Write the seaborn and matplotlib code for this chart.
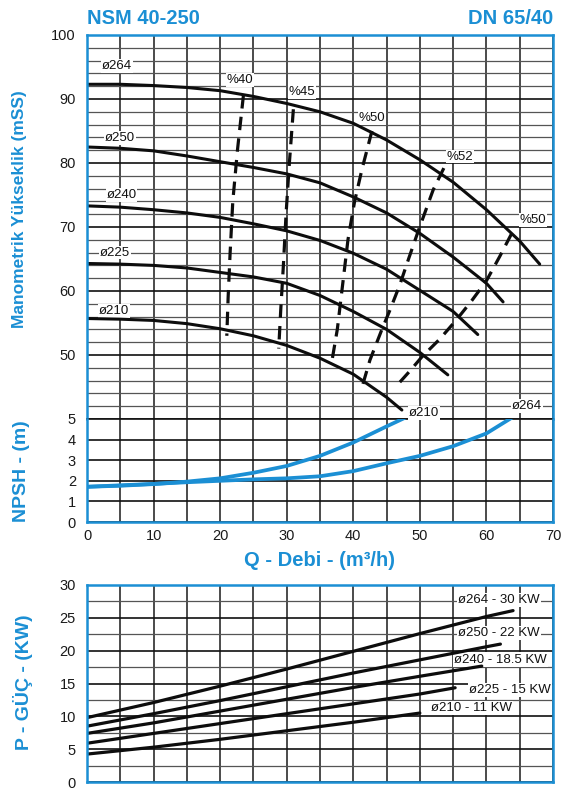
import matplotlib
matplotlib.use("Agg")
import matplotlib.pyplot as plt
import seaborn as sns

# ---------------- data ----------------
# Head curves  Q (m3/h) -> H (mSS)
q_h264 = [0, 5, 10, 15, 20, 25, 30, 35, 40, 45, 50, 55, 60, 65, 68]
h_h264 = [92.3, 92.3, 92.1, 91.8, 91.3, 90.4, 89.3, 88.0, 86.2, 83.6, 80.5, 77.0, 72.7, 67.8, 64.2]
q_h250 = [0, 5, 10, 15, 20, 25, 30, 35, 40, 45, 50, 55, 60, 62.5]
h_h250 = [82.5, 82.3, 81.9, 81.1, 80.2, 79.3, 78.3, 76.9, 74.7, 72.2, 69.0, 65.3, 61.2, 58.3]
q_h240 = [0, 5, 10, 15, 20, 25, 30, 35, 40, 45, 50, 55, 58.7]
h_h240 = [73.3, 73.1, 72.7, 72.2, 71.5, 70.5, 69.4, 67.9, 65.9, 63.4, 60.1, 56.8, 53.2]
q_h225 = [0, 5, 10, 15, 20, 25, 30, 35, 40, 45, 50, 54.2]
h_h225 = [64.3, 64.2, 64.0, 63.6, 62.9, 62.2, 61.2, 59.3, 56.8, 54.0, 50.4, 46.9]
q_h210 = [0, 5, 10, 15, 20, 25, 30, 35, 40, 45, 47.3]
h_h210 = [55.7, 55.6, 55.4, 54.9, 54.1, 53.0, 51.5, 49.5, 47.0, 43.4, 41.4]
head_names = ["ø264", "ø250", "ø240", "ø225", "ø210"]
head_label_q = [4.5, 5.0, 5.2, 4.2, 4.1]
head_label_h = [95.2, 83.9, 75.0, 66.0, 56.9]

# Efficiency (iso) curves
q_e40 = [23.5, 22.6, 21.9, 21.5, 21.2, 21.0]
h_e40 = [90.6, 82.0, 74.0, 66.0, 59.0, 53.0]
q_e45 = [31.0, 30.4, 29.9, 29.5, 29.1, 28.8]
h_e45 = [88.4, 80.0, 72.0, 64.0, 57.0, 51.0]
q_e50a = [42.8, 41.3, 40.2, 39.2, 38.4, 37.6, 36.7]
h_e50a = [85.0, 79.0, 74.0, 68.0, 61.0, 54.0, 48.5]
q_e52 = [53.6, 52.0, 49.8, 48.3, 47.0, 45.5, 44.3, 42.5, 41.4]
h_e52 = [79.2, 75.8, 69.5, 65.0, 61.0, 57.0, 54.0, 49.2, 45.3]
q_e50b = [63.8, 62.0, 60.0, 57.8, 55.5, 53.0, 50.3, 48.5, 46.6]
h_e50b = [69.0, 65.4, 61.6, 58.5, 55.5, 52.5, 49.7, 47.5, 45.3]
eff_names = ["%40", "%45", "%50", "%52", "%50"]
eff_label_q = [23.0, 32.3, 42.8, 56.0, 67.0]
eff_label_h = [93.0, 91.1, 87.0, 81.0, 71.1]

# NPSH curves
q_n210 = [0, 5, 10, 15, 20, 25, 30, 35, 40, 45, 47.7]
n_n210 = [1.71, 1.76, 1.84, 1.96, 2.12, 2.39, 2.72, 3.21, 3.86, 4.64, 5.05]
q_n264 = [0, 5, 10, 15, 20, 25, 30, 35, 40, 45, 50, 55, 60, 64.3]
n_n264 = [1.71, 1.78, 1.85, 1.93, 2.0, 2.07, 2.12, 2.22, 2.47, 2.85, 3.21, 3.68, 4.3, 5.16]
npsh_names = ["ø210", "ø264"]
npsh_label_q = [50.6, 66.1]
npsh_label_n = [5.29, 5.62]

# Power curves
q_p264 = [0, 10, 20, 30, 40, 50, 60, 64]
p_p264 = [9.8, 12.1, 14.6, 17.2, 19.9, 22.6, 25.2, 26.1]
q_p250 = [0, 10, 20, 30, 40, 50, 60, 62.1]
p_p250 = [8.5, 10.4, 12.4, 14.5, 16.6, 18.6, 20.6, 21.0]
q_p240 = [0, 10, 20, 30, 40, 50, 59.3]
p_p240 = [7.4, 9.0, 10.8, 12.6, 14.4, 16.1, 17.65]
q_p225 = [0, 10, 20, 30, 40, 50, 55.3]
p_p225 = [5.9, 7.4, 8.9, 10.4, 11.9, 13.4, 14.35]
q_p210 = [0, 10, 20, 30, 40, 50]
p_p210 = [4.25, 5.3, 6.5, 7.8, 9.1, 10.5]
power_names = ["ø264 - 30 KW", "ø250 - 22 KW", "ø240 - 18.5 KW", "ø225 - 15 KW", "ø210 - 11 KW"]
power_label_q = [55.8, 55.8, 55.2, 57.4, 51.6]
power_label_p = [27.75, 22.75, 18.65, 14.0, 11.25]

x_ticks = list(range(0, 75, 5))
head_ticks = list(range(40, 101, 2))
npsh_ticks = [0, 1, 2, 3, 4, 5]
power_ticks = [0, 2.5, 5, 7.5, 10, 12.5, 15, 17.5, 20, 22.5, 25, 27.5, 30]

# ---------------- styling ----------------
sns.set_style("white")
plt.rcParams["font.family"] = ["Liberation Sans", "DejaVu Sans"]
BLUE = "#1b8fd4"
W, H = 577, 791

fig = plt.figure(figsize=(W / 100, H / 100), dpi=100)
fig.patch.set_facecolor("white")


def rect(l, t, r, b):
    return [l / W, 1 - b / H, (r - l) / W, (b - t) / H]


ax_h = fig.add_axes(rect(87, 35, 553, 419))
ax_n = fig.add_axes(rect(87, 419, 553, 522))
ax_p = fig.add_axes(rect(87, 585, 553, 782))


def style_axes(ax, yticks, ylabels, major_every, xlabels=False):
    ax.set_xlim(0, 70)
    ax.set_ylim(yticks[0], yticks[-1])
    ax.set_xticks(x_ticks)
    if xlabels:
        ax.set_xticklabels([str(v) if v % 10 == 0 else "" for v in x_ticks])
    else:
        ax.set_xticklabels([])
    ax.set_yticks(yticks)
    ax.set_yticklabels(ylabels)
    ax.tick_params(length=0, labelsize=10.5, colors="#1a1a1a")
    ax.tick_params(axis="y", pad=8)
    ax.tick_params(axis="x", pad=5)
    ax.grid(True, color="#3c3c3c", lw=1.0)
    ax.set_axisbelow(True)
    for v, gl in zip(yticks, ax.get_ygridlines()):
        if abs(v / major_every - round(v / major_every)) < 1e-6:
            gl.set_color("#111111")
            gl.set_linewidth(1.2)
        else:
            gl.set_color("#555555")
            gl.set_linewidth(0.9)
    for gl in ax.get_xgridlines():
        gl.set_color("#1a1a1a")
        gl.set_linewidth(1.1)
    for s in ax.spines.values():
        s.set_color(BLUE)
        s.set_linewidth(1.8)
        s.set_zorder(5)


style_axes(ax_h, head_ticks, [str(v) if v % 10 == 0 and v >= 50 else "" for v in head_ticks], 10)
style_axes(ax_n, npsh_ticks, [str(v) for v in npsh_ticks], 1, xlabels=True)
style_axes(ax_p, power_ticks, [str(int(v)) if v % 5 == 0 else "" for v in power_ticks], 5)
ax_h.spines["bottom"].set_visible(False)
ax_n.spines["top"].set_visible(False)
for gl in ax_n.get_ygridlines()[-1:]:
    gl.set_clip_on(False)

# ---------------- head curves ----------------
head_q = [q_h264, q_h250, q_h240, q_h225, q_h210]
head_h = [h_h264, h_h250, h_h240, h_h225, h_h210]
for q, h in zip(head_q, head_h):
    sns.lineplot(x=q, y=h, ax=ax_h, color="#0d0d0d", lw=2.2, sort=False, estimator=None, zorder=4)
for name, x, y in zip(head_names, head_label_q, head_label_h):
    ax_h.text(x, y, name, fontsize=9.5, ha="center", va="center", color="#111111", zorder=3,
              bbox=dict(fc="white", ec="none", pad=0.6))

eff_q = [q_e40, q_e45, q_e50a, q_e52, q_e50b]
eff_h = [h_e40, h_e45, h_e50a, h_e52, h_e50b]
for q, h in zip(eff_q, eff_h):
    sns.lineplot(x=q, y=h, ax=ax_h, color="#0d0d0d", lw=2.3, sort=False, estimator=None, zorder=4)
    ax_h.lines[-1].set_dashes([4.2, 2.6])
for name, x, y in zip(eff_names, eff_label_q, eff_label_h):
    ax_h.text(x, y, name, fontsize=9.5, ha="center", va="center", color="#111111", zorder=3,
              bbox=dict(fc="white", ec="none", pad=0.6))

# ---------------- NPSH curves ----------------
for q, n in zip([q_n210, q_n264], [n_n210, n_n264]):
    sns.lineplot(x=q, y=n, ax=ax_n, color=BLUE, lw=2.7, sort=False, estimator=None, zorder=4)
for name, x, y in zip(npsh_names, npsh_label_q, npsh_label_n):
    ax_n.text(x, y, name, fontsize=9.5, ha="center", va="center", color="#111111", zorder=6,
              clip_on=False, bbox=dict(fc="white", ec="none", pad=0.6))

# ---------------- power curves ----------------
power_q = [q_p264, q_p250, q_p240, q_p225, q_p210]
power_p = [p_p264, p_p250, p_p240, p_p225, p_p210]
for q, p in zip(power_q, power_p):
    sns.lineplot(x=q, y=p, ax=ax_p, color="#0d0d0d", lw=2.3, sort=False, estimator=None, zorder=4)
for name, x, y in zip(power_names, power_label_q, power_label_p):
    ax_p.text(x, y, name, fontsize=9.5, ha="left", va="center", color="#111111", zorder=3,
              bbox=dict(fc="white", ec="none", pad=0.8))

# ---------------- titles & axis labels ----------------
fig.text(87 / W, 1 - 18 / H, "NSM 40-250", color=BLUE, fontsize=14.5, fontweight="bold",
         ha="left", va="center")
fig.text(553 / W, 1 - 18 / H, "DN 65/40", color=BLUE, fontsize=14.5, fontweight="bold",
         ha="right", va="center")
fig.text(20 / W, 1 - 209 / H, "Manometrik Yükseklik (mSS)", color=BLUE, fontsize=12.5,
         fontweight="bold", rotation=90, ha="center", va="center")
fig.text(22 / W, 1 - 471 / H, "NPSH - (m)", color=BLUE, fontsize=14, fontweight="bold",
         rotation=90, ha="center", va="center")
fig.text(320 / W, 1 - 560 / H, "Q - Debi - (m³/h)", color=BLUE, fontsize=14.5,
         fontweight="bold", ha="center", va="center")
fig.text(23 / W, 1 - 682 / H, "P - GÜÇ - (KW)", color=BLUE, fontsize=14, fontweight="bold",
         rotation=90, ha="center", va="center")

fig.savefig("out.png", dpi=100)
